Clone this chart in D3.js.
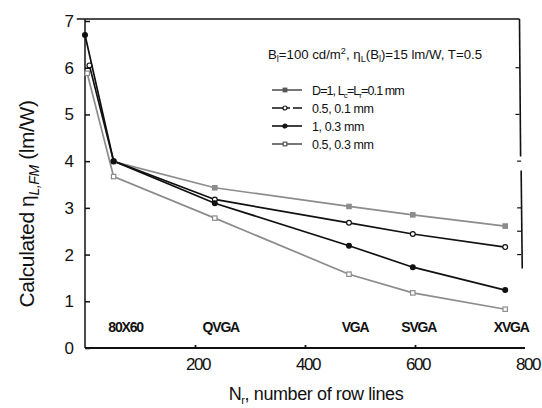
<!DOCTYPE html>
<html>
<head>
<meta charset="utf-8">
<script src="https://cdn.jsdelivr.net/npm/d3@7"></script>
<style>
  body { margin: 0; background: #fff; }
  svg { display: block; }
  text { font-family: "Liberation Sans Narrow", "Arial Narrow", "Liberation Sans", sans-serif; fill: #111; }
</style>
</head>
<body>
<svg id="chart" width="542" height="408"></svg>
<script>
// row counts of the display formats
var rowLines = [52, 236, 480, 596, 764];
var formatNames = ["80X60", "QVGA", "VGA", "SVGA", "XVGA"];

// calculated efficiency (lm/W) per format
var effD1Thin = [3.99, 3.43, 3.03, 2.85, 2.61];
var effHalfThin = [4.0, 3.18, 2.68, 2.44, 2.16];
var effD1Thick = [4.0, 3.10, 2.19, 1.73, 1.24];
var effHalfThick = [3.67, 2.78, 1.58, 1.18, 0.83];

// points near N=0 at the left edge: [rows, value]
var leadHalfThin = [8, 6.05];
var leadD1Thick = [0, 6.7];
var leadHalfThick = [4, 5.88];

var yTicks = [0, 1, 2, 3, 4, 5, 6, 7];
var xTicks = [200, 400, 600, 800];
var legendLabels = ["D=1, L", "0.5, 0.1 mm", "1, 0.3 mm", "0.5, 0.3 mm"];

var svg = d3.select('#chart');
var x = d3.scaleLinear().domain([0, 800]).range([85, 525]);
var y = d3.scaleLinear().domain([0, 7]).range([348, 21]);

var makePoints = function (vals, lead) {
    var pts = vals.map(function (v, i) { return [rowLines[i], v]; });
    if (lead) pts.unshift(lead);
    return pts;
};

var series = [
    { pts: makePoints(effD1Thin), color: '#8c8c8c', marker: 'fsq' },
    { pts: makePoints(effHalfThin, leadHalfThin), color: '#111', marker: 'ocirc' },
    { pts: makePoints(effD1Thick, leadD1Thick), color: '#111', marker: 'fcirc' },
    { pts: makePoints(effHalfThick, leadHalfThick), color: '#8c8c8c', marker: 'osq' }
];

// frame: top and right borders
svg.append('line')
    .attr('x1', x(-15)).attr('x2', x(790))
    .attr('y1', y(7) - 2).attr('y2', y(7) - 2)
    .style('stroke', '#111').style('stroke-width', 1.6);
svg.append('line')
    .attr('x1', x(790)).attr('x2', x(792))
    .attr('y1', y(7) - 2).attr('y2', y(4.1))
    .style('stroke', '#111').style('stroke-width', 1.6);
svg.append('line')
    .attr('x1', x(793)).attr('x2', x(795))
    .attr('y1', y(3.8)).attr('y2', y(1.7))
    .style('stroke', '#111').style('stroke-width', 1.6);
svg.selectAll('line.rtick')
    .data([6, 5, 4, 3, 2.5, 2])
    .enter()
    .append('line')
    .classed('rtick', true)
    .attr('x1', function (d) { return x(d > 4 ? 790 : 793) - 4; })
    .attr('x2', function (d) { return x(d > 4 ? 790 : 793); })
    .attr('y1', function (d) { return y(d); })
    .attr('y2', function (d) { return y(d); })
    .style('stroke', '#111').style('stroke-width', 1.2);

// left axis
var yAxis = d3.axisRight(y).tickValues(yTicks).tickSize(5).tickFormat('');
svg.append('g')
    .attr('transform', 'translate(' + x(0) + ',0)')
    .call(yAxis)
    .call(function (g) {
        g.select('.domain').attr('d', 'M0,' + (y(7) - 2) + 'V' + y(0));
        g.selectAll('path, line').style('stroke', '#111').style('stroke-width', 1.5);
    });
svg.selectAll('text.ytick')
    .data(yTicks)
    .enter()
    .append('text')
    .classed('ytick', true)
    .attr('x', x(0) - 11)
    .attr('y', function (d) { return y(d) + 6; })
    .attr('text-anchor', 'end')
    .style('font-size', '17px')
    .text(function (d) { return d; });

// bottom axis
var xAxis = d3.axisTop(x).tickValues(xTicks.slice(0, 3)).tickSize(3).tickFormat('');
svg.append('g')
    .attr('transform', 'translate(0,' + y(0) + ')')
    .call(xAxis)
    .call(function (g) {
        g.select('.domain').attr('d', 'M' + x(0) + ',0H' + x(800));
        g.selectAll('path, line').style('stroke', '#111').style('stroke-width', 1.8);
    });
svg.selectAll('text.xtick')
    .data(xTicks)
    .enter()
    .append('text')
    .classed('xtick', true)
    .attr('x', function (d) { return x(d) + 3; })
    .attr('y', y(0) + 22)
    .attr('text-anchor', 'middle')
    .style('font-size', '17px')
    .style('letter-spacing', '-1.5px')
    .text(function (d) { return d; });

// format names along the bottom
svg.selectAll('text.fmt')
    .data(formatNames)
    .enter()
    .append('text')
    .classed('fmt', true)
    .attr('x', function (d, i) { return x(rowLines[i]) + (i === 0 ? 12 : 6); })
    .attr('y', y(0) - 16)
    .attr('text-anchor', 'middle')
    .style('font-size', '14px')
    .style('letter-spacing', '-1.2px')
    .style('font-weight', 'bold')
    .text(function (d) { return d; });

// series lines
var line = d3.line()
    .x(function (d) { return x(d[0]); })
    .y(function (d) { return y(d[1]); });

svg.selectAll('path.series')
    .data(series)
    .enter()
    .append('path')
    .classed('series', true)
    .attr('d', function (d) { return line(d.pts); })
    .style('fill', 'none')
    .style('stroke', function (d) { return d.color; })
    .style('stroke-width', 1.7);

var drawMarker = function (g, kind, color, px, py, s) {
    if (kind === 'fsq' || kind === 'osq') {
        g.append('rect')
            .attr('x', px - s / 2).attr('y', py - s / 2)
            .attr('width', s).attr('height', s)
            .style('fill', kind === 'fsq' ? color : '#fff')
            .style('stroke', color).style('stroke-width', 1.2);
    } else {
        g.append('circle')
            .attr('cx', px).attr('cy', py).attr('r', s / 2 + 0.2)
            .style('fill', kind === 'fcirc' ? color : '#fff')
            .style('stroke', color).style('stroke-width', 1.2);
    }
};

var markerLayer = svg.append('g');
series.forEach(function (s) {
    s.pts.forEach(function (p) {
        drawMarker(markerLayer, s.marker, s.color, x(p[0]), y(p[1]), 4.4);
    });
});

// header line with the conditions
var header = svg.append('text')
    .attr('x', 268).attr('y', 59)
    .attr('textLength', 214)
    .attr('lengthAdjust', 'spacingAndGlyphs')
    .style('font-size', '13px');
header.append('tspan').text('B');
header.append('tspan').attr('dy', 3).style('font-size', '9px').text('l');
header.append('tspan').attr('dy', -3).text('=100 cd/m');
header.append('tspan').attr('dy', -5).style('font-size', '9px').text('2');
header.append('tspan').attr('dy', 5).text(',  η');
header.append('tspan').attr('dy', 3).style('font-size', '9px').text('L');
header.append('tspan').attr('dy', -3).text('(B');
header.append('tspan').attr('dy', 3).style('font-size', '9px').text('l');
header.append('tspan').attr('dy', -3).text(')=15 lm/W,  T=0.5');

// legend
var legend = svg.append('g').attr('transform', 'translate(272,90)');
var rows = legend.selectAll('g')
    .data(series)
    .enter()
    .append('g')
    .attr('transform', function (d, i) { return 'translate(0,' + i * 18 + ')'; });
rows.append('line')
    .attr('x1', 0).attr('x2', 30)
    .style('stroke', function (d) { return d.color === '#111' ? '#111' : '#555'; })
    .style('stroke-width', 1.6)
    .style('stroke-dasharray', function (d, i) { return i === 1 ? '11,3,4,3,9' : null; });
rows.each(function (d) {
    drawMarker(d3.select(this), d.marker, d.color === '#111' ? '#111' : '#555', 13, 0, 3.6);
});
rows.append('text')
    .attr('x', 40).attr('y', 5)
    .style('font-size', '12.5px')
    .style('letter-spacing', function (d, i) { return i === 0 ? '-0.9px' : '-0.4px'; })
    .each(function (d, i) {
        var t = d3.select(this);
        t.append('tspan').text(legendLabels[i]);
        if (i === 0) {
            t.append('tspan').attr('dy', 3).style('font-size', '8px').text('c');
            t.append('tspan').attr('dy', -3).text('=L');
            t.append('tspan').attr('dy', 3).style('font-size', '8px').text('r');
            t.append('tspan').attr('dy', -3).text('=0.1 mm');
        }
    });

// axis titles
var xTitle = svg.append('text')
    .attr('x', 316).attr('y', 400)
    .attr('text-anchor', 'middle')
    .style('font-size', '18px')
    .style('letter-spacing', '-0.4px');
xTitle.append('tspan').text('N');
xTitle.append('tspan').attr('dy', 4).style('font-size', '11px').text('r');
xTitle.append('tspan').attr('dy', -4).text(', number of row lines');

var yTitle = svg.append('text')
    .attr('transform', 'translate(34,204) rotate(-90)')
    .attr('text-anchor', 'middle')
    .style('font-size', '21px')
    .style('letter-spacing', '-0.4px');
yTitle.append('tspan').text('Calculated η');
yTitle.append('tspan').attr('dy', 5).style('font-size', '14px').style('font-style', 'italic').text('L,FM');
yTitle.append('tspan').attr('dy', -5).text(' (lm/W)');
</script>
</body>
</html>
